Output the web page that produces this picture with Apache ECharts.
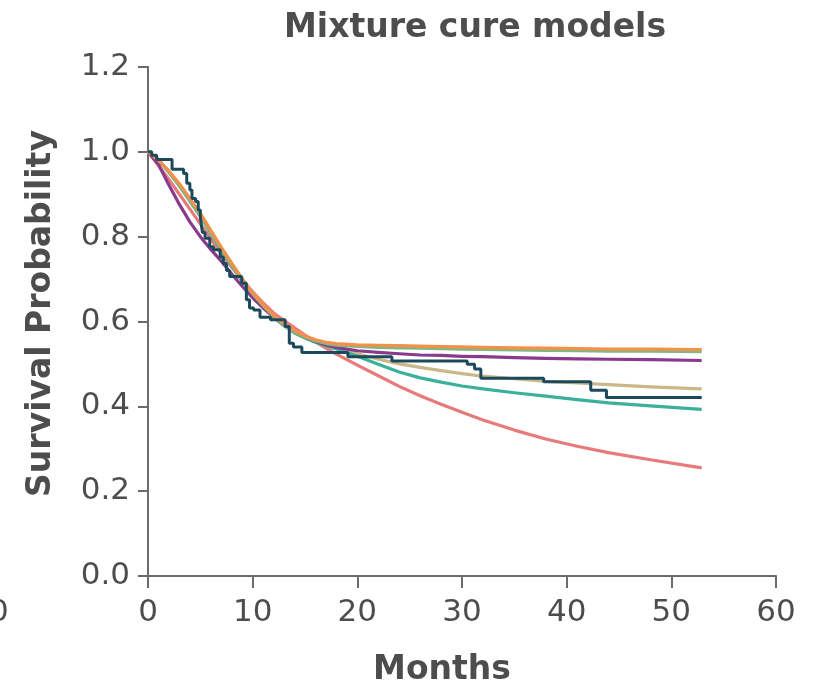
<!DOCTYPE html>
<html>
<head>
<meta charset="utf-8">
<title>Mixture cure models</title>
<script src="https://cdn.jsdelivr.net/npm/echarts@6/dist/echarts.min.js"></script>
<style>
  html, body { margin: 0; padding: 0; background: #fff; }
  #chart { width: 820px; height: 695px; }
</style>
</head>
<body>
<div id="chart"></div>
<script>
// months shared by the fitted model curves
const months = [0, 1, 2, 3, 4, 5, 6, 7, 8, 9, 10, 11, 12, 13, 14, 15, 16, 17, 18,
  20, 22, 24, 26, 28, 30, 32, 35, 38, 41, 44, 48, 52.9];

const orangeFit = [1.0, 0.98, 0.955, 0.925, 0.89, 0.855, 0.815, 0.775, 0.737, 0.70, 0.668, 0.64, 0.615, 0.595, 0.578, 0.566, 0.557, 0.551, 0.548,
  0.545, 0.544, 0.543, 0.542, 0.541, 0.54, 0.539, 0.538, 0.537, 0.536, 0.535, 0.535, 0.534];
const greenFit = [1.0, 0.982, 0.952, 0.92, 0.885, 0.85, 0.81, 0.77, 0.733, 0.697, 0.665, 0.637, 0.612, 0.592, 0.575, 0.563, 0.554, 0.548, 0.544,
  0.541, 0.539, 0.538, 0.537, 0.536, 0.535, 0.534, 0.533, 0.532, 0.531, 0.53, 0.53, 0.529];
const tealFit = [1.0, 0.982, 0.952, 0.92, 0.884, 0.848, 0.808, 0.768, 0.731, 0.695, 0.663, 0.635, 0.61, 0.59, 0.573, 0.561, 0.551, 0.543, 0.535,
  0.518, 0.499, 0.481, 0.467, 0.457, 0.448, 0.441, 0.432, 0.424, 0.416, 0.408, 0.401, 0.393];
const tanFit = [1.0, 0.98, 0.953, 0.922, 0.888, 0.852, 0.813, 0.774, 0.737, 0.701, 0.668, 0.639, 0.614, 0.594, 0.578, 0.566, 0.556, 0.545, 0.537,
  0.524, 0.511, 0.5, 0.492, 0.484, 0.477, 0.471, 0.465, 0.459, 0.455, 0.451, 0.446, 0.441];
const purpleFit = [1.0, 0.97, 0.922, 0.876, 0.835, 0.8, 0.77, 0.742, 0.712, 0.683, 0.656, 0.632, 0.611, 0.592, 0.576, 0.563, 0.553, 0.545, 0.539,
  0.531, 0.527, 0.524, 0.521, 0.52, 0.518, 0.517, 0.515, 0.513, 0.512, 0.511, 0.51, 0.508];
const salmonFit = [1.0, 0.968, 0.935, 0.9, 0.865, 0.83, 0.795, 0.76, 0.728, 0.698, 0.67, 0.644, 0.62, 0.602, 0.585, 0.568, 0.552, 0.537, 0.523,
  0.497, 0.472, 0.447, 0.425, 0.405, 0.386, 0.368, 0.344, 0.323, 0.306, 0.291, 0.274, 0.255];

// Kaplan-Meier steps (time of change, survival after change)
const kmMonths = [0, 0.35, 0.83, 2.3, 3.4, 3.7, 4.0, 4.2, 4.55, 4.8, 5.0, 5.1, 5.2, 5.45, 5.9, 6.25, 6.9, 7.2, 7.5, 7.8,
  8.95, 9.4, 9.7, 10.1, 10.7, 11.7, 13.1, 13.5, 13.9, 14.7, 19.1, 23.3, 30.5, 31.2, 31.8, 37.8, 42.3, 43.8, 52.9];
const kmSurv = [1.0, 0.992, 0.982, 0.959, 0.949, 0.926, 0.91, 0.89, 0.883, 0.863, 0.847, 0.827, 0.81, 0.796, 0.776, 0.769, 0.752, 0.737, 0.72, 0.706,
  0.69, 0.651, 0.632, 0.627, 0.61, 0.604, 0.588, 0.549, 0.54, 0.527, 0.517, 0.507, 0.499, 0.488, 0.466, 0.458, 0.438, 0.421, 0.421];

const xTicks = [0, 10, 20, 30, 40, 50, 60];
const yTicks = [0.0, 0.2, 0.4, 0.6, 0.8, 1.0, 1.2];

const zip = (xs, ys) => xs.map((x, i) => [x, ys[i]]);

const chart = echarts.init(document.getElementById('chart'));

const fitLine = (name, values, color) => ({
  name: name,
  type: 'line',
  data: zip(months, values),
  showSymbol: false,
  lineStyle: { color: color, width: 3.2, join: 'round' },
  itemStyle: { color: color }
});

chart.setOption({
  animation: false,
  textStyle: { fontFamily: 'DejaVu Sans' },
  title: {
    text: 'Mixture cure models',
    left: 279,
    top: 7,
    textStyle: { fontSize: 33, fontWeight: 'bold', color: '#4d4d4d', fontFamily: 'DejaVu Sans' }
  },
  grid: { left: 148, right: 44, top: 67, bottom: 119, containLabel: false },
  xAxis: {
    type: 'value',
    min: xTicks[0],
    max: xTicks[xTicks.length - 1],
    interval: 10,
    name: 'Months',
    nameLocation: 'middle',
    nameGap: 78,
    nameTextStyle: { fontSize: 33, fontWeight: 'bold', color: '#4d4d4d', padding: [0, 40, 0, 0] },
    axisLine: { lineStyle: { color: '#6b6b6b', width: 2 } },
    axisTick: { length: 12, lineStyle: { color: '#6b6b6b', width: 2 } },
    axisLabel: { fontSize: 31, color: '#4d4d4d', margin: 21 },
    splitLine: { show: false }
  },
  yAxis: {
    type: 'value',
    min: yTicks[0],
    max: yTicks[yTicks.length - 1],
    interval: 0.2,
    name: 'Survival Probability',
    nameLocation: 'middle',
    nameGap: 90,
    nameTextStyle: { fontSize: 33, fontWeight: 'bold', color: '#4d4d4d', padding: [0, 0, 0, 16] },
    axisLine: { show: true, lineStyle: { color: '#6b6b6b', width: 2 } },
    axisTick: { show: true, length: 10, lineStyle: { color: '#6b6b6b', width: 2 } },
    axisLabel: { fontSize: 31, color: '#4d4d4d', margin: 18, formatter: v => v.toFixed(1) },
    splitLine: { show: false }
  },
  graphic: [{
    type: 'text',
    left: -11,
    top: 597,
    style: { text: '0', fontSize: 31, fill: '#4d4d4d', fontFamily: 'DejaVu Sans' }
  }],
  series: [
    fitLine('Salmon', salmonFit, '#e87a7c'),
    fitLine('Tan', tanFit, '#c9b889'),
    fitLine('Teal', tealFit, '#3bb09a'),
    fitLine('Purple', purpleFit, '#883a8c'),
    fitLine('Green', greenFit, '#7fb880'),
    fitLine('Orange', orangeFit, '#f3914b'),
    {
      name: 'Kaplan-Meier',
      type: 'line',
      step: 'end',
      data: zip(kmMonths, kmSurv),
      showSymbol: false,
      lineStyle: { color: '#1c4a5c', width: 3 },
      itemStyle: { color: '#1c4a5c' }
    }
  ]
});
</script>
</body>
</html>
